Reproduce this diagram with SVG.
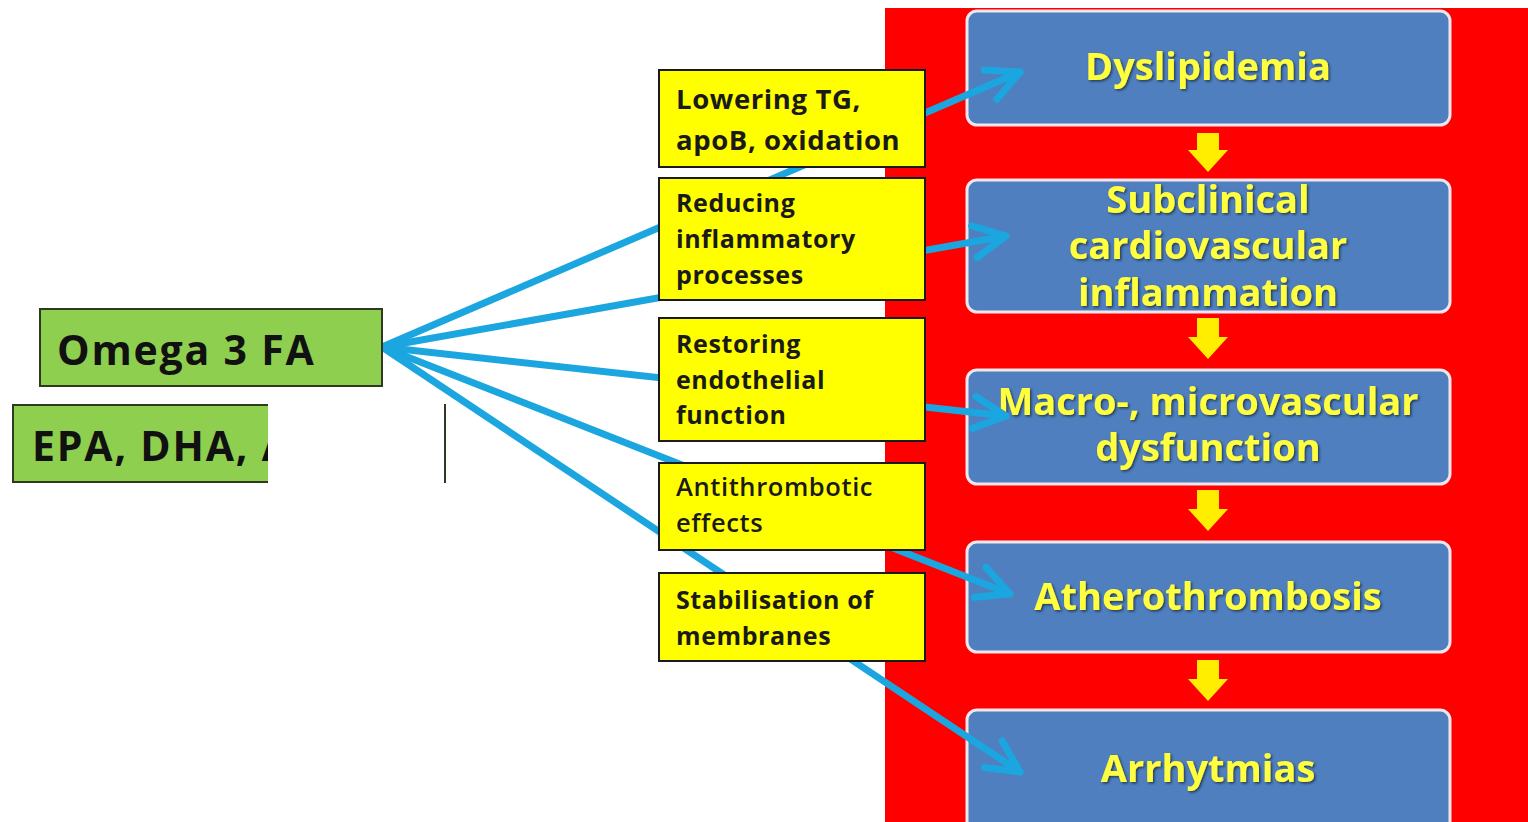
<svg xmlns="http://www.w3.org/2000/svg" width="1528" height="822" viewBox="0 0 1528 822">
<defs>
<style>
.bx{fill:#4F7FBE;stroke:#F2E6EC;stroke-width:3}
.bt{font-family:"Open Sans",Lato,sans-serif;font-weight:bold;font-size:38px;fill:#FFFF40;text-anchor:middle;dominant-baseline:central}
.yb{fill:#FFFF00;stroke:#1a1a1a;stroke-width:2}
.yt{font-family:"Open Sans",Lato,sans-serif;font-weight:bold;font-size:25px;letter-spacing:0.6px;fill:#1a1a1a;dominant-baseline:central}
.gb{fill:#8FCF4F;stroke:#2d3a1f;stroke-width:2}
.gt{font-family:"Open Sans",Lato,sans-serif;font-weight:bold;font-size:41px;letter-spacing:1.8px;fill:#111;dominant-baseline:central}
.cn{stroke:#1BA6E0;stroke-width:7;fill:none;stroke-linecap:round}
.ya{fill:#FFEE00}
</style>
<filter id="sh" x="-10%" y="-20%" width="120%" height="140%">
<feDropShadow dx="1.5" dy="1.5" stdDeviation="1" flood-color="#1a2a40" flood-opacity="0.8"/>
</filter>
<marker id="ah" viewBox="0 0 20 20" refX="18" refY="10" markerWidth="40" markerHeight="40" markerUnits="userSpaceOnUse" orient="auto">
<path d="M2,2 L18,10 L2,18" fill="none" stroke="#1BA6E0" stroke-width="3.5" stroke-linecap="round" stroke-linejoin="round"/>
</marker>
</defs>
<rect width="1528" height="822" fill="#FFFFFF"/>
<rect id="bg" x="885" y="8" width="643" height="814" fill="#FF0000"/>

<g id="dyslipidemia"><rect class="bx" x="967" y="11" width="483" height="114" rx="10"/><text class="bt" x="1208" y="65" filter="url(#sh)">Dyslipidemia</text></g>
<g id="subclinical"><rect class="bx" x="967" y="180" width="483" height="132" rx="10"/><text class="bt" x="1208" y="198" filter="url(#sh)">Subclinical</text><text class="bt" x="1208" y="244" filter="url(#sh)">cardiovascular</text><text class="bt" x="1208" y="291" filter="url(#sh)">inflammation</text></g>
<g id="macro"><rect class="bx" x="967" y="370" width="483" height="114" rx="10"/><text class="bt" x="1208" y="400" filter="url(#sh)">Macro-, microvascular</text><text class="bt" x="1208" y="446" filter="url(#sh)">dysfunction</text></g>
<g id="athero"><rect class="bx" x="967" y="542" width="483" height="110" rx="10"/><text class="bt" x="1208" y="595" filter="url(#sh)">Atherothrombosis</text></g>
<g id="arrhytmias"><rect class="bx" x="967" y="710" width="483" height="125" rx="10"/><text class="bt" x="1208" y="767" filter="url(#sh)">Arrhytmias</text></g>

<g id="flow-arrows">
<path class="ya" d="M1197,133 H1219 V150 H1228 L1208,172 L1188,150 H1197 Z"/>
<path class="ya" d="M1197,318 H1219 V337 H1228 L1208,359 L1188,337 H1197 Z"/>
<path class="ya" d="M1197,490 H1219 V509 H1228 L1208,531 L1188,509 H1197 Z"/>
<path class="ya" d="M1197,660 H1219 V679 H1228 L1208,701 L1188,679 H1197 Z"/>
</g>

<g id="connectors">
<line class="cn" x1="382" y1="347" x2="1020" y2="72" marker-end="url(#ah)"/>
<line class="cn" x1="382" y1="347" x2="1006" y2="236" marker-end="url(#ah)"/>
<line class="cn" x1="382" y1="347" x2="1006" y2="416" marker-end="url(#ah)"/>
<line class="cn" x1="382" y1="347" x2="1010" y2="594" marker-end="url(#ah)"/>
<line class="cn" x1="382" y1="347" x2="1020" y2="772" marker-end="url(#ah)"/>
</g>

<g id="lowering"><rect class="yb" x="659" y="70" width="266" height="97"/><text class="yt" x="676" y="98" style="font-size:27.5px">Lowering TG,</text><text class="yt" x="676" y="139" style="font-size:27.5px">apoB, oxidation</text></g>
<g id="reducing"><rect class="yb" x="659" y="178" width="266" height="122"/><text class="yt" x="676" y="202">Reducing</text><text class="yt" x="676" y="238">inflammatory</text><text class="yt" x="676" y="274">processes</text></g>
<g id="restoring"><rect class="yb" x="659" y="318" width="266" height="123"/><text class="yt" x="676" y="343">Restoring</text><text class="yt" x="676" y="379">endothelial</text><text class="yt" x="676" y="414">function</text></g>
<g id="antithrombotic"><rect class="yb" x="659" y="463" width="266" height="87"/><text class="yt" x="676" y="486" style="font-weight:600;font-size:25.5px">Antithrombotic</text><text class="yt" x="676" y="522" style="font-weight:600;font-size:25.5px">effects</text></g>
<g id="stabilisation"><rect class="yb" x="659" y="573" width="266" height="88"/><text class="yt" x="676" y="599">Stabilisation of</text><text class="yt" x="676" y="635">membranes</text></g>

<g id="omega"><rect class="gb" x="40" y="309" width="342" height="77"/><text class="gt" x="57" y="349">Omega 3 FA</text></g>
<g id="epa"><rect class="gb" x="13" y="405" width="432" height="77"/><text class="gt" x="32" y="445">EPA, DHA, ALA</text><rect x="268" y="395" width="176" height="88" fill="#FFFFFF"/></g>
</svg>
